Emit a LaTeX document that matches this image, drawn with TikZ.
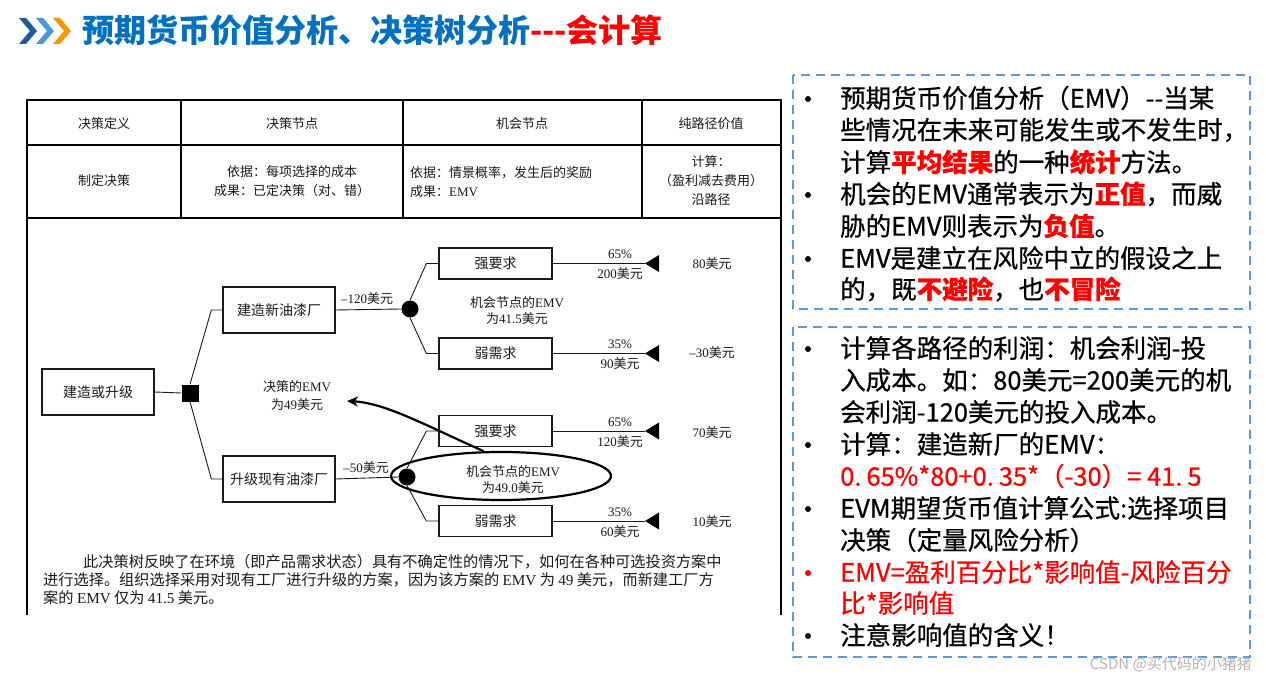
\documentclass[tikz,border=0pt]{standalone}
\usepackage{fontspec}
\setmainfont{Noto Sans CJK SC}
\newfontfamily\tms{Liberation Serif}
\newfontfamily\rfont[FakeBold=0.6]{Noto Sans CJK SC}
\usetikzlibrary{shapes.geometric,arrows.meta,calc}
\definecolor{ttlblue}{HTML}{0070C0}
\definecolor{chevdark}{HTML}{1F5C99}
\definecolor{chevlight}{HTML}{4A98DC}
\definecolor{chevorange}{HTML}{F39A00}
\definecolor{dashblue}{HTML}{5B9BD5}
\definecolor{ink}{HTML}{1A1A1A}
\definecolor{wm}{HTML}{B5B5B5}
\newcommand\ltn[1]{{\tms #1}}
\newcommand\hl[1]{\textcolor{red}{\bfseries #1}}
\begin{document}
\begin{tikzpicture}[x=1pt,y=-1pt,
  tbl/.style={line width=1.6pt, draw=black},
  cell/.style={font=\fontsize{13}{19}\selectfont, text=ink, align=center, inner sep=0pt},
  tbox/.style={draw=ink, line width=1.3pt, minimum width=112pt, minimum height=46pt, font=\fontsize{14}{16}\selectfont, text=ink, inner sep=0pt},
  obox/.style={draw=ink, line width=1.3pt, minimum width=113pt, minimum height=31pt, font=\fontsize{14}{16}\selectfont, text=ink, inner sep=0pt},
  dsq/.style={fill=black, minimum size=17pt, inner sep=0pt},
  cnode/.style={circle, fill=black, minimum size=17pt, inner sep=0pt},
  conn/.style={line width=0.9pt, draw=ink},
  lbl/.style={font=\fontsize{13}{16}\selectfont, text=ink, inner sep=0pt, align=center},
  para/.style={font=\fontsize{15.2}{18}\selectfont, text=ink, inner sep=0pt, anchor=west},
  rt/.style={font=\rfont\fontsize{25.5}{30}\selectfont, text=black, inner sep=0pt, anchor=west},
  bul/.style={circle, fill=black, minimum size=6pt, inner sep=0pt},
  dbox/.style={draw=dashblue, line width=2.5pt, dash pattern=on 9pt off 6pt},
  tri/.style={fill=black}
]
\useasboundingbox (0,0) rectangle (1266,684);
\fill[white] (0,0) rectangle (1266,684);

% ---------- title ----------
\fill[chevdark]   (19,18) -- (26,18) -- (37,31) -- (26,44) -- (19,44) -- (30,31) -- cycle;
\fill[chevlight]  (36,18) -- (43,18) -- (54,31) -- (43,44) -- (36,44) -- (47,31) -- cycle;
\fill[chevorange] (53,18) -- (60,18) -- (71,31) -- (60,44) -- (53,44) -- (64,31) -- cycle;
\node[anchor=west, inner sep=0pt, font=\fontsize{32}{34}\selectfont\bfseries] (title) at (82,30)
  {\textcolor{ttlblue}{预期货币价值分析、决策树分析}\textcolor{red}{-{}-{}-会计算}};

% ---------- table ----------
\draw[tbl] (27,615) -- (27,100) -- (781,100) -- (781,615);
\draw[tbl] (27,145) -- (781,145);
\draw[tbl] (27,218) -- (781,218);
\draw[tbl] (181,100) -- (181,218);
\draw[tbl] (403,100) -- (403,218);
\draw[tbl] (642,100) -- (642,218);
\node[cell] (h1) at (104,124) {决策定义};
\node[cell] (h2) at (292,124) {决策节点};
\node[cell] (h3) at (522,124) {机会节点};
\node[cell] (h4) at (711,124) {纯路径价值};
\node[cell] (r1) at (104,181) {制定决策};
\node[cell] (r2) at (292,181) {依据：每项选择的成本\\成果：已定决策（对、错）};
\node[cell, align=left, anchor=west] (r3) at (410,182) {依据：情景概率，发生后的奖励\\成果：\ltn{EMV}};
\node[cell] (r4) at (711,181) {计算：\\（盈利减去费用）\\沿路径};

% ---------- decision tree ----------
\node[tbox] (root) at (98,392) {建造或升级};
\node[dsq] (dec) at (190,393) {};
\node[tbox] (new) at (279,310) {建造新油漆厂};
\node[tbox] (upg) at (279,479) {升级现有油漆厂};
\node[cnode] (c1) at (410,309) {};
\node[cnode] (c2) at (407,477) {};
\node[obox] (s1) at (495.5,263.5) {强要求};
\node[obox] (w1) at (495.5,353.5) {弱需求};
\node[obox] (s2) at (495.5,431) {强要求};
\node[obox] (w2) at (495.5,521) {弱需求};

\coordinate (t1) at (645,263.5);
\coordinate (t2) at (645,353.5);
\coordinate (t3) at (645,431);
\coordinate (t4) at (645,521);
\foreach \t in {t1,t2,t3,t4}
  \fill[tri] (\t) -- ++(14,-8.5) -- ++(0,17) -- cycle;

\draw[conn] (root.east) -- (dec.west);
\draw[conn] (dec.north) -- ($(new.west)+(-11,0)$) -- (new.west);
\draw[conn] (dec.south) -- ($(upg.west)+(-11,0)$) -- (upg.west);
\draw[conn] (new.east) -- (c1.west);
\draw[conn] (upg.east) -- (c2.west);
\draw[conn] (c1.north) -- ($(s1.west)+(-12,0)$) -- (s1.west);
\draw[conn] (c1.south) -- ($(w1.west)+(-12,0)$) -- (w1.west);
\draw[conn] (c2.north) -- ($(s2.west)+(-12,0)$) -- (s2.west);
\draw[conn] (c2.south) -- ($(w2.west)+(-12,0)$) -- (w2.west);
\draw[conn] (s1.east) -- (t1);
\draw[conn] (w1.east) -- (t2);
\draw[conn] (s2.east) -- (t3);
\draw[conn] (w2.east) -- (t4);

\node[lbl] (cost1) at (367,299) {\ltn{–120}美元};
\node[lbl] (cost2) at (366,468) {\ltn{–50}美元};

\node[lbl] (p1a) at (620,254) {\ltn{65\%}};
\node[lbl] (p1b) at (620,274) {\ltn{200}美元};
\node[lbl] (p2a) at (620,344) {\ltn{35\%}};
\node[lbl] (p2b) at (620,364) {\ltn{90}美元};
\node[lbl] (p3a) at (620,422) {\ltn{65\%}};
\node[lbl] (p3b) at (620,442) {\ltn{120}美元};
\node[lbl] (p4a) at (620,512) {\ltn{35\%}};
\node[lbl] (p4b) at (620,532) {\ltn{60}美元};

\node[lbl] (v1) at (712,264) {\ltn{80}美元};
\node[lbl] (v2) at (712,353) {\ltn{–30}美元};
\node[lbl] (v3) at (712,433) {\ltn{70}美元};
\node[lbl] (v4) at (712,522) {\ltn{10}美元};

\node[lbl] (emv1) at (517,311) {机会节点的\ltn{EMV}\\为\ltn{41.5}美元};
\node[draw=black, ellipse, line width=2.2pt, minimum width=220pt, minimum height=48pt, inner sep=0pt] (ell) at (501,476) {};
\node[lbl] (emv2) at (513,480) {机会节点的\ltn{EMV}\\为\ltn{49.0}美元};
\node[lbl, font=\fontsize{13}{18}\selectfont] (emvd) at (297,396) {决策的\ltn{EMV}\\为\ltn{49}美元};
\coordinate (tip) at (347,401);
\draw[line width=2.2pt, -{Stealth[length=11pt,width=10pt]}] (ell.125) .. controls (425,425) and (385,403) .. (tip);

\node[para] (para1) at (83,562) {此决策树反映了在环境（即产品需求状态）具有不确定性的情况下，如何在各种可选投资方案中};
\node[para] (para2) at (43,580) {进行选择。组织选择采用对现有工厂进行升级的方案，因为该方案的 \ltn{EMV} 为 \ltn{49} 美元，而新建工厂方};
\node[para] (para3) at (43,598) {案的 \ltn{EMV} 仅为 \ltn{41.5} 美元。};

% ---------- right boxes ----------
\draw[dbox] (793,75) rectangle (1250,309);
\draw[dbox] (793,327) rectangle (1250,657);

\node[bul] (b1) at (808,99) {};
\node[rt] (a1) at (840,98) {预期货币价值分析（EMV）-{}-当某};
\node[rt] (a2) at (840,130) {些情况在未来可能发生或不发生时，};
\node[rt] (a3) at (840,162) {计算\hl{平均结果}的一种\hl{统计}方法。};
\node[bul] (b2) at (808,195) {};
\node[rt] (a4) at (840,194) {机会的EMV通常表示为\hl{正值}，而威};
\node[rt] (a5) at (840,226) {胁的EMV则表示为\hl{负值}。};
\node[bul] (b3) at (808,259) {};
\node[rt] (a6) at (840,258) {EMV是建立在风险中立的假设之上};
\node[rt] (a7) at (840,289) {的，既\hl{不避险}，也\hl{不冒险}};

\node[bul] (b4) at (808,349) {};
\node[rt] (q1) at (840,348) {计算各路径的利润：机会利润-投};
\node[rt] (q2) at (840,380) {入成本。如：80美元=200美元的机};
\node[rt] (q3) at (840,412) {会利润-120美元的投入成本。};
\node[bul] (b5) at (808,445) {};
\node[rt] (q4) at (840,444) {计算：建造新厂的EMV：};
\node[rt, text=red] (q5) at (840,476) {0.\hspace{5pt}65\%*80+0.\hspace{5pt}35*（-30）= 41.\hspace{5pt}5};
\node[bul] (b6) at (808,509) {};
\node[rt] (q6) at (840,508) {EVM期望货币值计算公式:选择项目};
\node[rt] (q7) at (840,540) {决策（定量风险分析）};
\node[bul, fill=red] (b7) at (808,573) {};
\node[rt, text=red] (q8) at (840,572) {EMV=盈利百分比*影响值-风险百分};
\node[rt, text=red] (q9) at (840,603) {比*影响值};
\node[bul] (b8) at (808,636) {};
\node[rt] (q10) at (840,635) {注意影响值的含义！};

\node[anchor=east, inner sep=0pt, text=wm, font=\fontsize{15}{17}\selectfont] (wmk) at (1252,664) {CSDN @买代码的小猪猪};
\end{tikzpicture}
\end{document}
